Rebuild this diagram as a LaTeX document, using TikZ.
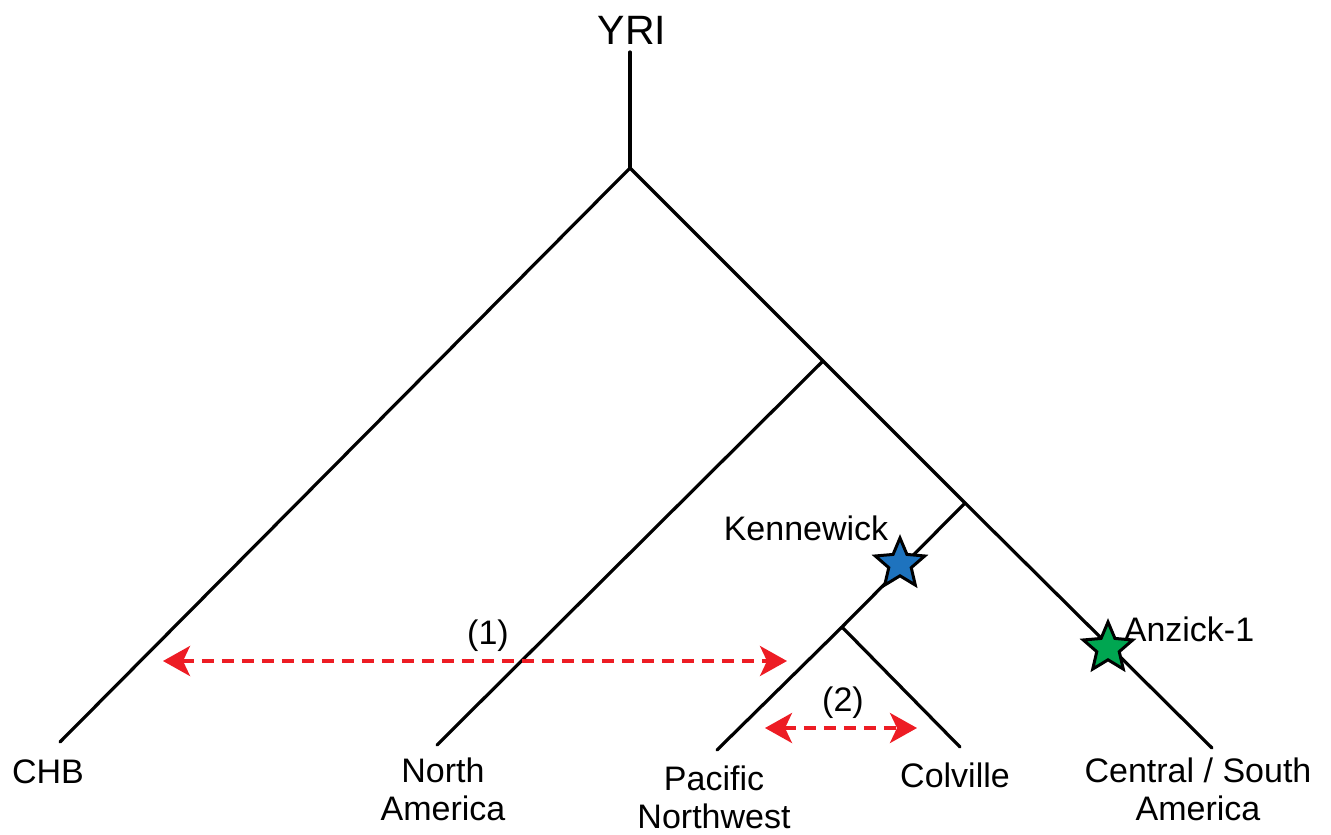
\documentclass[tikz,border=0pt]{standalone}
\usepackage{fontspec}
\setmainfont{Liberation Sans}
\usetikzlibrary{arrows.meta,shapes.geometric}
\definecolor{arrred}{HTML}{ED1C24}
\definecolor{kblue}{HTML}{1E73BE}
\definecolor{agreen}{HTML}{00A651}
\begin{document}
\begin{tikzpicture}[x=1pt,y=-1pt,
  branch/.style={line width=3.2pt, line cap=round},
  lbl/.style={font=\fontsize{34}{38}\selectfont, align=center, inner sep=0pt},
  gene/.style={arrred, line width=3.5pt, dash pattern=on 12pt off 8pt,
    {Stealth[length=27pt,width=30pt,inset=7pt]}-{Stealth[length=27pt,width=30pt,inset=7pt]}},
  mark star/.style={star, star points=5, star point ratio=2.2, minimum size=52pt,
    inner sep=0pt, draw=black, line width=3pt, line join=miter}]
\useasboundingbox (0,0) rectangle (1331,835);
% tree coordinates
\coordinate (top) at (630,52);
\coordinate (root) at (630,168);
\coordinate (n1) at (823,361);
\coordinate (n2) at (965,503);
\coordinate (n3) at (842,627);
\coordinate (lCHB) at (60,742);
\coordinate (lNA) at (437,745);
\coordinate (lPNW) at (717,750);
\coordinate (lCOL) at (960,747);
\coordinate (lCSA) at (1212,748);
% branches
\draw[branch] (top) -- (root);
\draw[branch] (root) -- (lCHB);
\draw[branch] (root) -- (n1) -- (n2) -- (lCSA);
\draw[branch] (n1) -- (lNA);
\draw[branch] (n2) -- (n3) -- (lPNW);
\draw[branch] (n3) -- (lCOL);
% labels
\node[lbl, font=\fontsize{41}{44}\selectfont] (yri) at (632,30) {YRI};
\node[lbl] (chb) at (48,772) {CHB};
\node[lbl] (na) at (443,789) {North\\America};
\node[lbl] (pnw) at (714,797) {Pacific\\Northwest};
\node[lbl] (col) at (955,775) {Colville};
\node[lbl] (csa) at (1198,789) {Central / South\\America};
% stars
\node[mark star, fill=kblue] (kstar) at (900,564) {};
\node[mark star, fill=agreen] (astar) at (1108,648) {};
\node[lbl] (ken) at (806,528) {Kennewick};
\node[lbl] (anz) at (1189,629) {Anzick-1};
% gene flow arrows
\coordinate (a1l) at (163,661);
\coordinate (a1r) at (787,661);
\draw[gene] (a1l) -- (a1r);
\node[lbl] (g1) at (488,636) {(1)};
\coordinate (a2l) at (765,728);
\coordinate (a2r) at (917,728);
\draw[gene] (a2l) -- (a2r);
\node[lbl] (g2) at (843,703) {(2)};
\end{tikzpicture}
\end{document}
